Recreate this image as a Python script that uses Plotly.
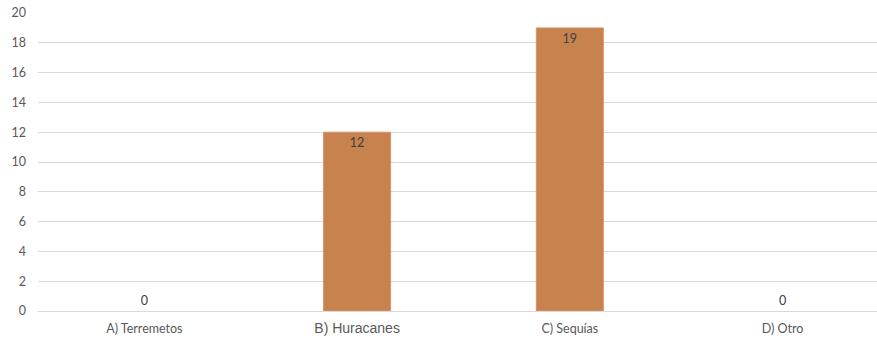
import plotly.graph_objects as go

categories = ["A) Terremetos", "B) Huracanes", "C) Sequías", "D) Otro"]
values = [0, 12, 19, 0]
y_ticks = [0, 2, 4, 6, 8, 10, 12, 14, 16, 18, 20]

tick_text = []
for c in categories:
    if c.startswith("B)"):
        tick_text.append('<span style="font-family:Liberation Sans;font-size:14px">' + c + '</span>')
    else:
        tick_text.append(c)

positions = ["outside" if v == 0 else "inside" for v in values]
edge_widths = [0 if v == 0 else 1 for v in values]

fig = go.Figure(go.Bar(
    x=list(range(len(categories))),
    y=values,
    width=0.315,
    marker=dict(color="#C8824E", line=dict(color="#D9946A", width=edge_widths)),
    text=[str(v) for v in values],
    textposition=positions,
    insidetextanchor="end",
    textfont=dict(family="Lato, Open Sans, sans-serif", size=12.5, color="#404040"),
    cliponaxis=False,
    hoverinfo="skip",
))

fig.update_layout(
    width=877, height=339,
    margin=dict(l=38, r=0, t=13, b=28),
    paper_bgcolor="white", plot_bgcolor="white",
    showlegend=False,
    font=dict(family="Lato, Open Sans, sans-serif", size=12.5, color="#595959"),
)
fig.update_xaxes(
    range=[-0.5, 3.444],
    tickmode="array", tickvals=list(range(len(categories))), ticktext=tick_text,
    showgrid=False, zeroline=False, showline=False, ticks="",
    ticklabelstandoff=8, automargin=False,
    tickfont=dict(size=12.5, color="#595959"),
)
fig.update_yaxes(
    range=[0, 20], tickvals=y_ticks,
    showgrid=True, gridcolor="#D9D9D9", gridwidth=1,
    zeroline=True, zerolinecolor="#D9D9D9", zerolinewidth=1,
    showline=False, ticks="", ticklabelstandoff=11, automargin=False,
    ticklabeloverflow="allow",
    tickfont=dict(size=12.5, color="#595959"),
)

fig.write_html("out.html", config={"displayModeBar": False},
               post_script="document.body.style.margin='0';")
